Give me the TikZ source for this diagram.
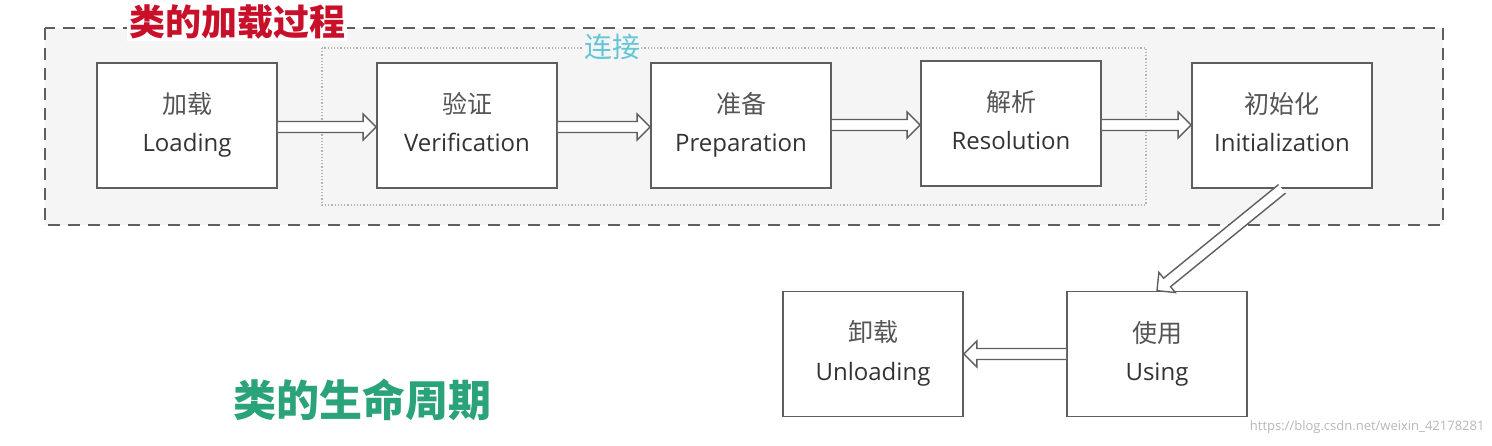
\documentclass[tikz,border=0pt]{standalone}
\usepackage{fontspec}
\setmainfont{Open Sans}
\newfontfamily\cjk{Noto Sans CJK SC}
\usetikzlibrary{calc}
\definecolor{boxline}{HTML}{5E5E5E}
\definecolor{txt}{HTML}{333333}
\definecolor{cjktxt}{HTML}{555555}
\definecolor{outerfill}{HTML}{F5F5F5}
\definecolor{titlered}{HTML}{C8102A}
\definecolor{titlegreen}{HTML}{2AA27A}
\definecolor{linkcyan}{HTML}{62C6D6}
\newcommand{\stagetext}[2]{{\cjk\color{cjktxt}\fontsize{25}{25}\selectfont\rule[-6pt]{0pt}{26pt}#1}\\[13pt]{\fontsize{24}{24}\selectfont\rule[-7pt]{0pt}{25pt}#2}}
\tikzset{
  stagebox/.style={draw=boxline, line width=1.7pt, fill=white, minimum width=180pt, minimum height=125pt, align=center, text=txt, inner sep=0pt},
  hollowarrow/.style={draw=boxline, line width=1.4pt, fill=white, line join=miter},
}
% hollow block arrow from #1 to #2
\newcommand{\blockarrow}[2]{%
  \draw[hollowarrow] let \p1=(#1), \p2=(#2), \n1={atan2(\y2-\y1,\x2-\x1)}, \n2={veclen(\x2-\x1,\y2-\y1)} in
    [shift={(\p1)}, rotate=\n1]
    (0,5.5) -- (\n2-13,5.5) -- (\n2-13,13) -- (\n2,0) -- (\n2-13,-13) -- (\n2-13,-5.5) -- (0,-5.5);
}
\begin{document}
\begin{tikzpicture}[x=1pt,y=-1pt]
\useasboundingbox (0,0) rectangle (1492,445);
\fill[white] (0,0) rectangle (1492,445);
% outer dashed frame
\draw[boxline, line width=1.7pt, dash pattern=on 12pt off 8pt, fill=outerfill] (45,28) rectangle (1443,225);
% dotted linking frame
\draw[black!30, line width=1.2pt, dotted] (322,48) rectangle (1146,205);
\node[font=\cjk\fontsize{28}{28}\selectfont, text=linkcyan, fill=outerfill, inner sep=1pt] (linklabel) at (612,47) {连接};
\node[font=\cjk\bfseries\fontsize{36}{36}\selectfont, text=titlered, fill=white, inner sep=2pt, anchor=west] (loadtitle) at (127,22) {类的加载过程};
% stages
\node[stagebox] (load) at (187,125.5) {\stagetext{加载}{Loading}};
\node[stagebox] (verif) at (467,125.5) {\stagetext{验证}{Verification}};
\node[stagebox] (prep) at (741,125.5) {\stagetext{准备}{Preparation}};
\node[stagebox] (resol) at (1011,123.5) {\stagetext{解析}{Resolution}};
\node[stagebox] (init) at (1282,125.5) {\stagetext{初始化}{Initialization}};
\node[stagebox] (using) at (1157,354) {\stagetext{使用}{Using}};
\node[stagebox] (unload) at (873,354) {\stagetext{卸载}{Unloading}};
% arrows
\blockarrow{load.east |- 0,127}{verif.west |- 0,127}
\blockarrow{verif.east |- 0,127}{prep.west |- 0,127}
\blockarrow{prep.east |- 0,125}{resol.west |- 0,125}
\blockarrow{resol.east |- 0,125}{init.west |- 0,125}
\blockarrow{init.south}{using.north}
\blockarrow{using.west}{unload.east}
% lifecycle title
\node[font=\cjk\bfseries\fontsize{43}{43}\selectfont, text=titlegreen, anchor=west] (lifetitle) at (230,400) {类的生命周期};
\node[font=\fontsize{13}{13}\selectfont, text=black!28, anchor=east] (wm) at (1488,427) {https://blog.csdn.net/weixin\_42178281};
\end{tikzpicture}
\end{document}
